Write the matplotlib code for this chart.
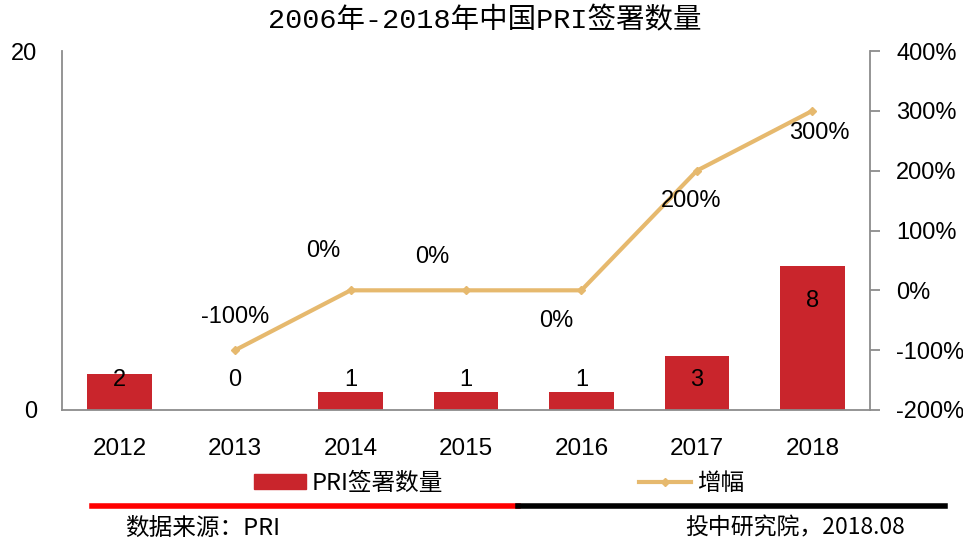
import matplotlib
matplotlib.use('Agg')
import matplotlib.pyplot as plt
import matplotlib.lines as mlines
import matplotlib.patches as mpatches
import numpy as np

plt.rcParams['font.family'] = ['Liberation Sans', 'Noto Sans CJK SC']

years = ['2012', '2013', '2014', '2015', '2016', '2017', '2018']
counts = [2, 0, 1, 1, 1, 3, 8]
growth = [np.nan, -100, 0, 0, 0, 200, 300]
growth_labels = ['', '-100%', '0%', '0%', '0%', '200%', '300%']

bar_color = '#C9252C'
line_color = '#E6B96E'
spine_color = '#8C8C8C'

fig = plt.figure(figsize=(9.63, 5.43), dpi=100)
ax = fig.add_axes([0.0644, 0.245, 0.839, 0.661])
x = np.arange(len(years))

ax.bar(x, counts, width=0.56, color=bar_color, zorder=2)
ax.set_xlim(-0.5, len(years) - 0.5)
ax.set_ylim(0, 20)
ax.set_yticks([0, 20])
ax.set_xticks(x)
ax.set_xticklabels(years, fontsize=17.5)
ax.tick_params(axis='x', length=0, pad=20)
ax.tick_params(axis='y', length=0, labelsize=17, pad=18)
for side in ['top', 'right']:
    ax.spines[side].set_visible(False)
for side in ['left', 'bottom']:
    ax.spines[side].set_color(spine_color)
    ax.spines[side].set_linewidth(1.3)

# bar value labels
for xi, v in zip(x, counts):
    ly = v * 0.76 if v > 4 else 1.67
    ax.text(xi, ly, str(v), ha='center', va='center', fontsize=17, zorder=5)

ax2 = ax.twinx()
ax2.plot(x, growth, color=line_color, linewidth=3, marker='D', markersize=4, zorder=3)
ax2.set_ylim(-200, 400)
ax2.set_yticks(np.arange(-200, 401, 100))
ax2.set_yticklabels([f'{t}%' for t in range(-200, 401, 100)], fontsize=17)
ax2.tick_params(axis='y', length=7, width=1.3, color=spine_color, pad=12)
for side in ['top', 'left', 'bottom']:
    ax2.spines[side].set_visible(False)
ax2.spines['right'].set_color(spine_color)
ax2.spines['right'].set_linewidth(1.3)

# line value labels (offsets in points, mimic Excel placement)
offsets = [(0, 0), (0, 24), (-20, 28), (-24, 24), (-18, -22), (-4, -22), (5, -16)]
for xi, g, lab, off in zip(x, growth, growth_labels, offsets):
    if np.isnan(g):
        continue
    ax2.annotate(lab, (xi, g), xytext=off, textcoords='offset points',
                 ha='center', va='center', fontsize=17, zorder=6)

fig.text(0.503, 0.962, '2006年-2018年中国PRI签署数量', ha='center', va='center',
         fontsize=20.5, family=['Liberation Mono', 'Noto Sans CJK SC'])

# legend
bar_handle = mpatches.Patch(color=bar_color)
line_handle = mlines.Line2D([], [], color=line_color, linewidth=3, marker='D', markersize=4)
fig.legend([bar_handle, line_handle], ['PRI签署数量', '增幅'],
           loc='center', bbox_to_anchor=(0.518, 0.109), ncol=2, frameon=False,
           handlelength=2.2, handleheight=0.6, handletextpad=0.25, columnspacing=8.3,
           prop={'family': ['Noto Sans CJK SC'], 'size': 17})

# red/black separator bar
fig.add_artist(mlines.Line2D([0.0955, 0.538], [0.068, 0.068], color='#FF0000',
                             linewidth=4, transform=fig.transFigure))
fig.add_artist(mlines.Line2D([0.538, 0.981], [0.068, 0.068], color='#000000',
                             linewidth=4, transform=fig.transFigure))

fig.text(0.13, 0.027, '数据来源：PRI', ha='left', va='center', fontsize=17,
         family=['Noto Sans CJK SC'])
fig.text(0.94, 0.027, '投中研究院，2018.08', ha='right', va='center', fontsize=16.5,
         family=['Noto Sans CJK SC'])

fig.savefig('out.png', dpi=100, facecolor='white')
